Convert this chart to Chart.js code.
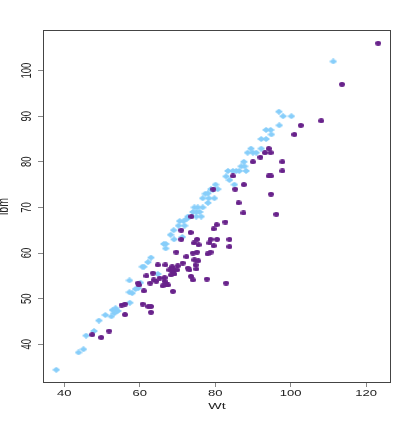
<!DOCTYPE html>
<html><head><meta charset="utf-8">
<script src="https://cdn.jsdelivr.net/npm/chart.js@4"></script>
<style>html,body{margin:0;padding:0;background:#fff}#wrap{width:414px;height:422px}</style>
</head><body><div id="wrap"><canvas id="c" width="414" height="422"></canvas></div>
<script>
const xTitle = 'Wt';
const yTitle = 'lbm';
const xTicks = [40, 60, 80, 100, 120];
const yTicks = [40, 50, 60, 70, 80, 90, 100];

const blueWt = [37.9,43.8,45.1,45.8,47.9,49.2,50.9,52.5,52.8,53.6,53.3,54.2,57.4,57.3,58.0,57.3,58.9,59.6,60.2,60.7,61.1,62.2,63.0,64.8,66.4,66.9,66.9,68.2,69.0,69.1,70.3,71.9,70.6,71.6,71.3,72.8,74.5,75.4,76.7,74.1,75.0,75.9,75.0,76.3,76.7,78.3,79.8,78.1,77.4,78.9,80.7,80.1,82.9,83.8,85.1,83.4,84.7,85.6,86.4,88.2,86.9,87.8,87.6,88.6,90.0,90.9,89.5,92.2,92.2,93.5,93.5,94.7,94.9,97.0,96.9,98.0,100.2,111.3,79.4,78.1,72.5];
const blueLbm = [34.4,38.2,38.9,41.9,42.9,45.2,46.4,46.1,47.5,47.9,46.8,47.3,49.1,51.4,51.2,54.0,52.1,52.3,53.5,57.0,57.0,58.0,59.0,55.4,62.0,62.0,61.0,64.0,65.0,63.0,66.0,66.0,67.0,67.0,63.5,68.0,70.0,70.0,70.0,69.0,69.0,69.0,68.0,68.0,72.0,72.0,72.0,71.0,73.0,74.0,74.0,75.0,76.8,76.0,75.0,78.0,78.0,78.0,78.0,78.0,79.0,79.0,80.0,82.0,82.0,82.0,82.9,82.9,85.0,85.0,87.0,87.0,86.0,88.0,91.0,90.0,90.0,102.0,73.9,73.1,67.5];

const purpleWt = [47.4,49.8,51.9,55.2,56.1,56.1,59.6,59.8,60.8,61.1,61.8,62.3,63.0,63.0,62.8,63.5,63.7,64.4,64.8,65.3,66.6,66.1,67.5,66.6,67.1,66.8,67.9,68.6,68.8,69.2,68.3,68.8,69.9,68.8,70.1,71.4,72.8,73.2,69.7,72.4,71.0,71.0,73.5,73.7,73.6,74.1,74.5,74.8,75.0,75.5,74.1,75.2,74.4,75.6,75.2,77.8,78.0,78.8,78.8,78.5,79.6,79.6,80.4,80.5,79.5,82.7,82.9,83.8,83.8,84.7,85.3,86.2,87.5,87.6,90.0,92.0,93.2,94.2,94.7,94.2,94.8,94.8,96.2,97.8,97.8,101.0,102.7,108.1,113.6,123.2];
const purpleLbm = [42.1,41.5,42.9,48.6,48.8,46.5,53.4,53.0,48.8,51.7,55.0,48.3,48.3,47.0,53.4,55.6,54.1,53.8,57.4,54.5,53.8,52.8,53.0,54.6,53.0,57.4,56.3,57.0,55.9,55.4,55.2,51.6,56.3,56.5,57.2,57.8,56.7,56.3,60.2,59.2,65.0,63.0,64.5,68.0,54.9,54.1,58.5,57.4,56.5,58.3,60.0,60.2,62.2,61.8,63.0,54.3,59.8,60.2,63.0,62.2,61.6,65.3,66.2,63.0,74.0,66.8,53.4,63.0,61.4,76.9,74.0,71.0,68.8,75.0,80.0,81.0,82.0,82.9,82.0,76.9,76.9,72.9,68.5,80.0,78.0,86.0,88.0,89.0,97.0,106.0];

const BLUE = '#87CEFA';
const PURPLE = '#68228B';
const FONT = '"Liberation Sans", Arial, Helvetica, sans-serif';
const SX = 1.45; // horizontal stretch of the reference's text

function makeDiamond(w, h, color) {
  const c = document.createElement('canvas');
  c.width = w; c.height = h;
  const g = c.getContext('2d');
  g.fillStyle = color;
  g.beginPath();
  g.moveTo(w / 2, 0); g.lineTo(w, h / 2); g.lineTo(w / 2, h); g.lineTo(0, h / 2);
  g.closePath(); g.fill();
  return c;
}
function makeEllipse(w, h, color) {
  const c = document.createElement('canvas');
  c.width = w; c.height = h;
  const g = c.getContext('2d');
  g.fillStyle = color;
  g.beginPath();
  g.ellipse(w / 2, h / 2, w / 2, h / 2, 0, 0, Math.PI * 2);
  g.fill();
  return c;
}
const diamondImg = makeDiamond(8, 6, BLUE);
const ellipseImg = makeEllipse(6, 5, PURPLE);

const toPts = (xs, ys) => xs.map((x, i) => ({ x: x, y: ys[i] }));

function text(ctx, str, x, y, size, rotate) {
  ctx.save();
  ctx.translate(x, y);
  ctx.scale(SX, 1);
  if (rotate) ctx.rotate(-Math.PI / 2);
  ctx.font = size + 'px ' + FONT;
  ctx.fillText(str, 0, 0);
  ctx.restore();
}

const framePlugin = {
  id: 'frame',
  afterDraw(chart) {
    const { ctx, chartArea: a, scales } = chart;
    ctx.save();
    ctx.strokeStyle = '#444';
    ctx.lineWidth = 1;
    ctx.strokeRect(Math.round(a.left) + 0.5, Math.round(a.top) + 0.5,
      Math.round(a.right - a.left) - 1, Math.round(a.bottom - a.top) - 1);
    ctx.fillStyle = '#222';
    ctx.textAlign = 'center';
    ctx.textBaseline = 'middle';
    yTicks.forEach(v => text(ctx, String(v), 27, scales.y.getPixelForValue(v), 9.5, true));
    xTicks.forEach(v => text(ctx, String(v), scales.x.getPixelForValue(v), 394, 9, false));
    text(ctx, yTitle, 4, (a.top + a.bottom) / 2, 10.5, true);
    text(ctx, xTitle, (a.left + a.right) / 2, 406.5, 9.8, false);
    ctx.restore();
  }
};

new Chart(document.getElementById('c'), {
  type: 'scatter',
  data: {
    datasets: [
      { data: toPts(purpleWt, purpleLbm), pointStyle: ellipseImg, pointRadius: 3, borderWidth: 0 },
      { data: toPts(blueWt, blueLbm), pointStyle: diamondImg, pointRadius: 4, borderWidth: 0 }
    ]
  },
  options: {
    responsive: false,
    animation: false,
    events: [],
    layout: { padding: { left: 0, right: 23, top: 30, bottom: 0 } },
    plugins: { legend: { display: false }, tooltip: { enabled: false } },
    scales: {
      x: {
        type: 'linear', min: 34.38, max: 126.6,
        afterBuildTicks: s => { s.ticks = xTicks.map(v => ({ value: v })); },
        afterFit: s => { s.height = 39; },
        grid: { drawOnChartArea: false, drawTicks: true, tickLength: 4, color: '#888', tickColor: '#888' },
        border: { display: false },
        ticks: { display: false }
      },
      y: {
        type: 'linear', min: 31.5, max: 108.9,
        afterBuildTicks: s => { s.ticks = yTicks.map(v => ({ value: v })); },
        afterFit: s => { s.width = 43; },
        grid: { drawOnChartArea: false, drawTicks: true, tickLength: 5, color: '#888', tickColor: '#888' },
        border: { display: false },
        ticks: { display: false }
      }
    }
  },
  plugins: [framePlugin]
});
</script>
</body></html>
